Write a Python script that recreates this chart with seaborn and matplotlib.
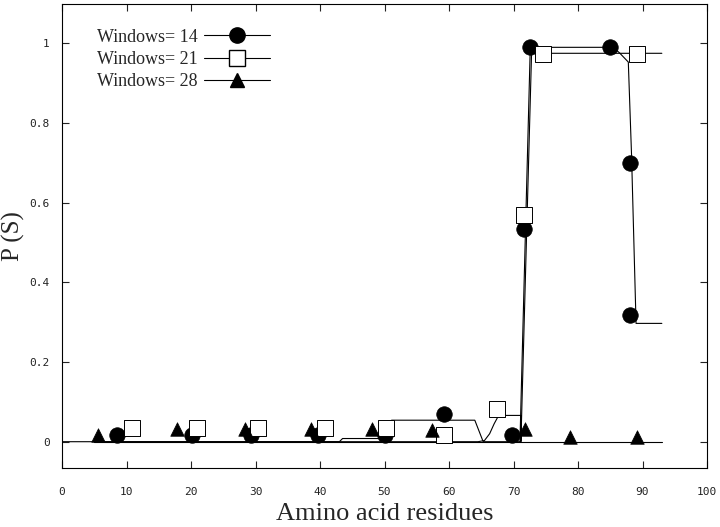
import matplotlib
matplotlib.use("Agg")
import matplotlib.pyplot as plt
from matplotlib.lines import Line2D
import seaborn as sns

# traced curves, one per window size
W14_X = [0, 43.0, 43.5, 50.6, 50.8, 51.1, 64.0, 65.3, 71.0, 72.6, 85.5, 86.5, 87.8, 88.3, 89.0, 93.0]
W14_Y = [0, 0.0, 0.008, 0.008, 0.048, 0.054, 0.054, 0.0, 0.0, 0.99, 0.99, 0.975, 0.953, 0.72, 0.297, 0.297]

W21_X = [5.0, 64.5, 65.5, 66.3, 67.0, 67.7, 71.1, 71.15, 72.8, 93.0]
W21_Y = [0.0, 0.0, 0.003, 0.02, 0.045, 0.066, 0.066, 0.0, 0.975, 0.975]

W28_X = [5.0, 93.0]
W28_Y = [0.0, 0.0]

# marker positions
C14_X = [8.6, 20.1, 29.3, 39.7, 50.0, 59.3, 69.7, 71.6, 72.6, 85.0, 88.1, 88.1]
C14_Y = [0.018, 0.018, 0.018, 0.018, 0.016, 0.069, 0.018, 0.535, 0.99, 0.99, 0.70, 0.317]

S21_X = [10.8, 21.0, 30.4, 40.8, 50.3, 59.3, 67.5, 71.6, 74.6, 89.1]
S21_Y = [0.034, 0.034, 0.034, 0.034, 0.034, 0.016, 0.083, 0.57, 0.972, 0.972]

T28_X = [5.6, 17.9, 28.3, 38.6, 48.0, 57.3, 71.8, 78.8, 89.1]
T28_Y = [0.016, 0.031, 0.031, 0.031, 0.031, 0.029, 0.031, 0.011, 0.011]

LEGEND_LABELS = ["Windows= 14", "Windows= 21", "Windows= 28"]
X_TICKS = list(range(0, 101, 10))
Y_TICKS = [0, 0.2, 0.4, 0.6, 0.8, 1]
Y_TICKLABELS = ["0", "0.2", "0.4", "0.6", "0.8", "1"]

sns.set_style("ticks")
plt.rcParams["font.family"] = ["Liberation Serif", "DejaVu Serif"]

fig, ax = plt.subplots(figsize=(7.2, 5.27), dpi=100)
fig.subplots_adjust(left=62 / 720, right=707 / 720, top=1 - 3.5 / 527, bottom=1 - 468 / 527)

LW = 0.8
for xs, ys in [(W28_X, W28_Y), (W21_X, W21_Y), (W14_X, W14_Y)]:
    sns.lineplot(x=xs, y=ys, ax=ax, color="black", lw=LW, sort=False, estimator=None)

sns.scatterplot(x=C14_X, y=C14_Y, ax=ax, marker="o", s=125, color="black",
                edgecolor="black", linewidth=0.5, zorder=5)
sns.scatterplot(x=S21_X, y=S21_Y, ax=ax, marker="s", s=120, color="white",
                edgecolor="black", linewidth=0.7, zorder=5)
sns.scatterplot(x=T28_X, y=T28_Y, ax=ax, marker="^", s=95, color="black",
                edgecolor="black", linewidth=0.5, zorder=5)

ax.set_xlim(0, 100)
ax.set_ylim(-0.066, 1.1)
ax.set_xticks(X_TICKS)
ax.set_xticklabels([str(t) for t in X_TICKS])
ax.set_yticks(Y_TICKS)
ax.set_yticklabels(Y_TICKLABELS)
ax.tick_params(direction="in", top=True, right=True, length=5, width=0.8,
               colors="#222222")
ax.tick_params(axis="x", pad=14)
ax.tick_params(axis="y", pad=9)
for lab in ax.get_xticklabels() + ax.get_yticklabels():
    lab.set_family("DejaVu Sans Mono")
    lab.set_fontsize(8)
for sp in ax.spines.values():
    sp.set_linewidth(0.8)
    sp.set_color("black")

ax.set_xlabel("Amino acid residues", fontsize=19, labelpad=4)
ax.set_ylabel("P (S)", fontsize=18)
ax.yaxis.set_label_coords(-0.058, 0.5)

handles = [
    Line2D([], [], color="black", lw=LW, marker="o", markersize=11,
           markerfacecolor="black", markeredgecolor="black"),
    Line2D([], [], color="black", lw=LW, marker="s", markersize=11,
           markerfacecolor="white", markeredgecolor="black"),
    Line2D([], [], color="black", lw=LW, marker="^", markersize=10,
           markerfacecolor="black", markeredgecolor="black"),
]
ax.legend(handles, LEGEND_LABELS, loc="upper left", bbox_to_anchor=(0.054, 0.946),
          frameon=False, markerfirst=False, handlelength=3.65, handletextpad=0.35,
          labelspacing=0.3, borderpad=0, borderaxespad=0, fontsize=13)

fig.savefig("out.png", dpi=100)
